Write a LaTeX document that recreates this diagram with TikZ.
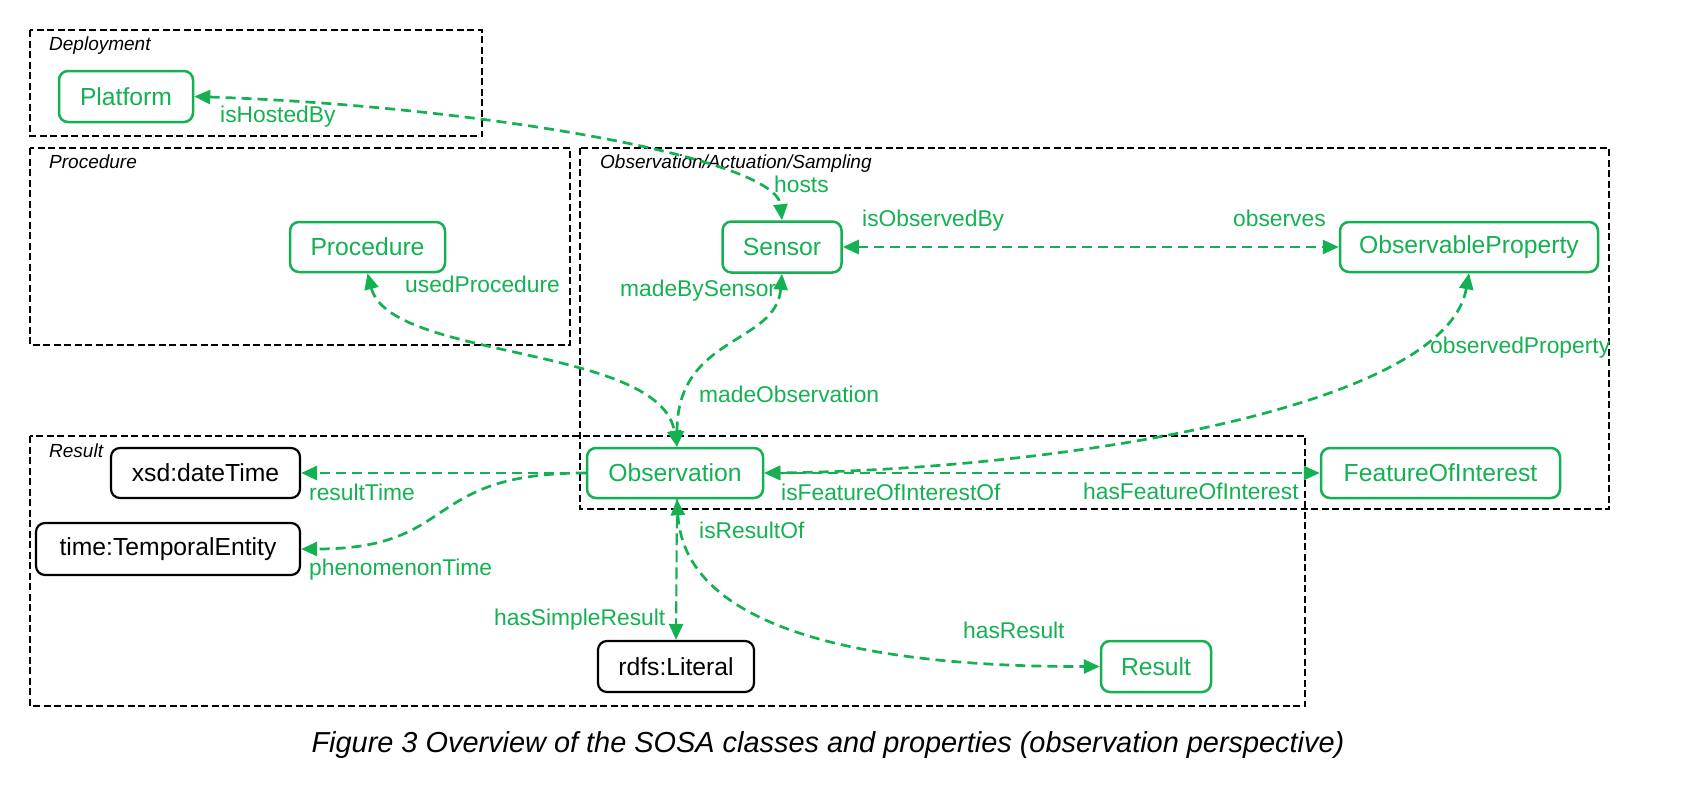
\documentclass[tikz,border=0pt]{standalone}
\usepackage{fontspec}
\setmainfont{Liberation Sans}
\usetikzlibrary{arrows.meta}
\definecolor{sgreen}{RGB}{20,177,82}
\begin{document}
\begin{tikzpicture}[x=1pt,y=-1pt,
  grp/.style={draw=black, line width=2pt, dash pattern=on 7pt off 3.5pt},
  grplabel/.style={anchor=base west, inner sep=0, font=\fontsize{19}{22}\selectfont\itshape},
  cls/.style={draw=sgreen, text=sgreen, rounded corners=9pt, line width=2.5pt, inner sep=0, fill=white, font=\fontsize{24.7}{28}\selectfont},
  litcls/.style={cls, draw=black, text=black, line width=2.2pt},
  conn/.style={draw=sgreen, line width=2.7pt, dash pattern=on 10pt off 6pt},
  thin conn/.style={draw=sgreen, line width=2.1pt, dash pattern=on 12pt off 5pt},
  tip/.tip={Triangle[length=16pt,width=14pt]},
  lbl/.style={anchor=base west, inner sep=0, text=sgreen, font=\fontsize{22.8}{26}\selectfont},
]
\useasboundingbox (0,0) rectangle (1692,806);

% group boxes
\draw[grp] (30,30) rectangle (482,136);
\draw[grp] (30,148) rectangle (570,345);
\draw[grp] (580,148) rectangle (1609,509);
\draw[grp] (30,436) rectangle (1305,706);
\node[grplabel] (gdep) at (49,50) {Deployment};
\node[grplabel] (gproc) at (49,168) {Procedure};
\node[grplabel] (gobs) at (600,168) {Observation/Actuation/Sampling};
\node[grplabel] (gres) at (49,457) {Result};

% nodes
\node[cls, minimum width=134pt, minimum height=51pt] (platform) at (126,96.5) {Platform};
\node[cls, minimum width=155pt, minimum height=50pt] (procedure) at (367.5,247) {Procedure};
\node[cls, minimum width=119pt, minimum height=51pt] (sensor) at (782,247) {Sensor};
\node[cls, minimum width=258pt, minimum height=50pt] (obsprop) at (1469,247) {ObservableProperty};
\node[cls, minimum width=176pt, minimum height=50pt] (obs) at (675,473) {Observation};
\node[cls, minimum width=239pt, minimum height=50pt] (foi) at (1440.5,473) {FeatureOfInterest};
\node[litcls, minimum width=189pt, minimum height=50pt] (dt) at (205.5,473) {xsd:dateTime};
\node[litcls, minimum width=264pt, minimum height=52pt] (te) at (168,549) {time:TemporalEntity};
\node[litcls, minimum width=156pt, minimum height=51pt] (literal) at (676,666.5) {rdfs:Literal};
\node[cls, minimum width=110pt, minimum height=51pt] (result) at (1156,666.5) {Result};

% connectors
\draw[conn, tip-tip] (platform.east) .. controls (480,106) and (776,158) .. (sensor.north);
\draw[conn, tip-tip] (sensor.east) -- (obsprop.west);
\draw[conn, tip-tip] (sensor.south) .. controls (776,345) and (677,335) .. ([xshift=2pt]obs.north);
\draw[conn, tip-tip] (procedure.south) .. controls (390,360) and (660,345) .. ([xshift=2pt]obs.north);
\draw[conn, tip-tip] (obsprop.south) .. controls (1445,410) and (1050,470) .. (obs.east);
\draw[conn, tip-tip] (obs.east) -- (foi.west);
\draw[conn, -tip] (obs.west) -- (dt.east);
\draw[conn, -tip] (obs.west) .. controls (420,473) and (460,549) .. (te.east);
\draw[thin conn, -tip] ([xshift=2pt]obs.south) -- (literal.north);
\draw[conn, tip-tip] ([xshift=2pt]obs.south) .. controls (685,640) and (900,667) .. (result.west);

% labels
\node[lbl] (l1) at (220,122) {isHostedBy};
\node[lbl] (l2) at (774,192) {hosts};
\node[lbl] (l3) at (862,226) {isObservedBy};
\node[lbl] (l4) at (1233,226) {observes};
\node[lbl] (l5) at (405,292) {usedProcedure};
\node[lbl] (l6) at (620,296) {madeBySensor};
\node[lbl] (l7) at (1430,353) {observedProperty};
\node[lbl] (l8) at (699,402) {madeObservation};
\node[lbl] (l9) at (309,500) {resultTime};
\node[lbl] (l10) at (781,500) {isFeatureOfInterestOf};
\node[lbl] (l11) at (1083,499) {hasFeatureOfInterest};
\node[lbl] (l12) at (699,538) {isResultOf};
\node[lbl] (l13) at (309,575) {phenomenonTime};
\node[lbl] (l14) at (494,625) {hasSimpleResult};
\node[lbl] (l15) at (963,638) {hasResult};

% caption
\node[anchor=base, inner sep=0, font=\fontsize{28.9}{32}\selectfont\itshape] (caption) at (828,752) {Figure 3 Overview of the SOSA classes and properties (observation perspective)};
\end{tikzpicture}
\end{document}
